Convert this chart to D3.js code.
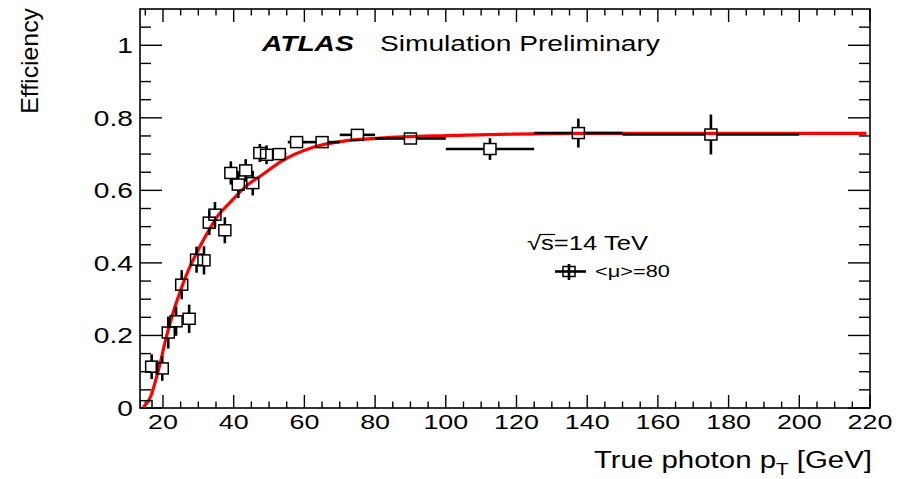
<!DOCTYPE html>
<html>
<head>
<meta charset="utf-8">
<script src="https://cdn.jsdelivr.net/npm/d3@7"></script>
<style>
  html, body { margin: 0; padding: 0; background: #fff; }
  svg { display: block; }
  text { font-family: "Liberation Sans", Arial, Helvetica, sans-serif; fill: #000; }
</style>
</head>
<body>
<svg id="chart" width="907" height="479"></svg>
<script>
// Photon efficiency vs true photon pT, <mu>=80
const ptCenter = [15.2, 16.8, 19.8, 21.5, 23.7, 25.3, 27.4, 29.5, 31.6, 33.1, 34.7, 37.5, 39.2, 41.3, 43.4, 45.4, 47.4, 49.3, 52.9, 57.8, 65, 75, 90, 112.5, 137.5, 175];
const ptHalfWidth = [1, 1, 1, 1, 1, 1, 1, 1, 1, 1, 1, 1, 1, 1, 1, 1, 1, 1, 2, 2.5, 5, 5, 10, 12.5, 12.5, 25];
const efficiency = [0.005, 0.114, 0.109, 0.208, 0.239, 0.340, 0.246, 0.409, 0.407, 0.511, 0.533, 0.490, 0.648, 0.616, 0.655, 0.620, 0.703, 0.698, 0.700, 0.733, 0.733, 0.753, 0.743, 0.714, 0.758, 0.754];
const effError = [0, 0.034, 0.034, 0.044, 0.040, 0.040, 0.039, 0.036, 0.039, 0.034, 0.035, 0.036, 0.032, 0.037, 0.031, 0.034, 0.025, 0.026, 0.015, 0.010, 0.010, 0.012, 0.012, 0.030, 0.040, 0.055];

// Fitted turn-on curve, sampled
const fitPt = [14.4, 16.5, 17.7, 19.2, 20.6, 22.5, 24.8, 27.2, 29.5, 32.4, 35.6, 39.0, 43.7, 48.4, 53.1, 62.5, 72, 81.4, 100.3, 119.1, 138, 170, 200, 219];
const fitEff = [0.002, 0.031, 0.068, 0.123, 0.182, 0.251, 0.320, 0.380, 0.427, 0.480, 0.531, 0.567, 0.613, 0.645, 0.678, 0.719, 0.737, 0.744, 0.751, 0.755, 0.757, 0.757, 0.757, 0.757];

// Axis ticks
const xMajorTicks = [20, 40, 60, 80, 100, 120, 140, 160, 180, 200, 220];
const xTickLabels = ["20", "40", "60", "80", "100", "120", "140", "160", "180", "200", "220"];
const yMajorTicks = [0, 0.2, 0.4, 0.6, 0.8, 1];
const yTickLabels = ["0", "0.2", "0.4", "0.6", "0.8", "1"];

const svg = d3.select("#chart");
const fLeft = 140, fRight = 870, fTop = 9, fBottom = 408;
const x = d3.scaleLinear().domain([13.5, 220]).range([fLeft, fRight]);
const y = d3.scaleLinear().domain([0, 1.1]).range([fBottom, fTop]);

const SX = 1.28; // horizontal stretch of the canvas fonts

function label(parent, px, py, str, opts) {
  const g = parent.append("g").attr("transform", `translate(${px},${py}) scale(${opts.sx || SX},1)`);
  const t = g.append("text")
    .attr("x", 0).attr("y", 0)
    .attr("text-anchor", opts.anchor || "start")
    .style("font-size", opts.size + "px");
  if (opts.weight) t.style("font-weight", opts.weight);
  if (opts.italic) t.style("font-style", "italic");
  if (str !== null) t.text(str);
  return t;
}

// clip region for the plot contents
svg.append("defs").append("clipPath").attr("id", "frameClip")
  .append("rect").attr("x", fLeft).attr("y", fTop).attr("width", fRight - fLeft).attr("height", fBottom - fTop);

// ---- ticks (inward, on all four sides) ----
const tickG = svg.append("g").attr("stroke", "#000").attr("stroke-width", 1.4);
const xMinor = d3.range(15, 221, 5);
xMinor.forEach(v => {
  const major = v % 20 === 0;
  const len = major ? 13 : 6.5;
  tickG.append("line").attr("x1", x(v)).attr("x2", x(v)).attr("y1", fBottom).attr("y2", fBottom - len);
  tickG.append("line").attr("x1", x(v)).attr("x2", x(v)).attr("y1", fTop).attr("y2", fTop + len);
});
const yMinor = d3.range(0, 22).map(i => i * 0.05);
yMinor.forEach((v, i) => {
  const major = i % 4 === 0;
  const len = major ? 22 : 11;
  tickG.append("line").attr("x1", fLeft).attr("x2", fLeft + len).attr("y1", y(v)).attr("y2", y(v));
  tickG.append("line").attr("x1", fRight).attr("x2", fRight - len).attr("y1", y(v)).attr("y2", y(v));
});

// ---- frame ----
svg.append("rect").attr("x", fLeft).attr("y", fTop).attr("width", fRight - fLeft).attr("height", fBottom - fTop)
  .attr("fill", "none").attr("stroke", "#000").attr("stroke-width", 1.6);

// ---- tick labels ----
xMajorTicks.forEach((v, i) => label(svg, x(v), 429, xTickLabels[i], { size: 21, anchor: "middle" }));
yMajorTicks.forEach((v, i) => label(svg, 133, y(v) + 8, yTickLabels[i], { size: 22, anchor: "end" }));

// ---- axis titles ----
const xt = label(svg, 872, 468, null, { size: 23, anchor: "end" });
xt.append("tspan").text("True photon p");
xt.append("tspan").attr("dy", 7).style("font-size", "16px").text("T");
xt.append("tspan").attr("dy", -7).text(" [GeV]");

svg.append("g").attr("transform", `translate(38,8) rotate(-90) scale(1.08,1)`)
  .append("text").attr("text-anchor", "end").style("font-size", "23px").text("Efficiency");

// ---- fit curve ----
const plot = svg.append("g").attr("clip-path", "url(#frameClip)");
const line = d3.line().x((d, i) => x(fitPt[i])).y((d, i) => y(fitEff[i])).curve(d3.curveMonotoneX);
plot.append("path").datum(fitPt).attr("d", line)
  .attr("fill", "none").attr("stroke", "#ff0000").attr("stroke-width", 3.2);

// ---- data points: open squares with error bars outside the marker ----
const bw = 12, bh = 11;
const pts = ptCenter.map((p, i) => ({ p, w: ptHalfWidth[i], e: efficiency[i], err: effError[i] }));
const errG = plot.append("g").attr("stroke", "#000").attr("stroke-width", 2.6);
pts.forEach(d => {
  const cx = x(d.p), cy = y(d.e);
  const yHi = y(d.e + d.err), yLo = y(d.e - d.err);
  if (cy - yHi > bh / 2) {
    errG.append("line").attr("x1", cx).attr("x2", cx).attr("y1", cy - bh / 2).attr("y2", yHi);
    errG.append("line").attr("x1", cx).attr("x2", cx).attr("y1", cy + bh / 2).attr("y2", yLo);
  }
  const xL = x(d.p - d.w), xR = x(d.p + d.w);
  if (cx - xL > bw / 2) {
    errG.append("line").attr("x1", cx - bw / 2).attr("x2", xL).attr("y1", cy).attr("y2", cy);
    errG.append("line").attr("x1", cx + bw / 2).attr("x2", xR).attr("y1", cy).attr("y2", cy);
  }
});
plot.append("g").selectAll("rect").data(pts).join("rect")
  .attr("x", d => x(d.p) - bw / 2).attr("y", d => y(d.e) - bh / 2)
  .attr("width", bw).attr("height", bh)
  .attr("fill", "none").attr("stroke", "#000").attr("stroke-width", 1.5);

// ---- ATLAS label ----
label(svg, 262, 51, "ATLAS", { size: 22, weight: "bold", italic: true });
label(svg, 380, 51, "Simulation Preliminary", { size: 22 });

// ---- energy label and legend ----
const sq = label(svg, 527, 250, null, { size: 20 });
sq.append("tspan").text("\u221A");
sq.append("tspan").text("s");
sq.append("tspan").text("=14 TeV");
{
  const node = sq.node();
  const start = node.getSubStringLength(0, 1);
  const w = node.getSubStringLength(1, 1);
  d3.select(node.parentNode).append("line")
    .attr("x1", start - 1).attr("x2", start + w + 1).attr("y1", -15.5).attr("y2", -15.5)
    .attr("stroke", "#000").attr("stroke-width", 1.2);
}

// legend entry: marker with crossing error bars
const legY = 271.5, legX = 569;
const lg = svg.append("g").attr("stroke", "#000");
lg.append("line").attr("x1", 555).attr("x2", 586).attr("y1", legY).attr("y2", legY).attr("stroke-width", 2.6);
lg.append("line").attr("x1", legX).attr("x2", legX).attr("y1", 264).attr("y2", 280).attr("stroke-width", 2.6);
lg.append("rect").attr("x", legX - bw / 2).attr("y", legY - 5).attr("width", bw).attr("height", 10)
  .attr("fill", "none").attr("stroke-width", 1.5);
label(svg, 595, 277, "<\u03BC>=80", { size: 17 });
</script>
</body>
</html>
